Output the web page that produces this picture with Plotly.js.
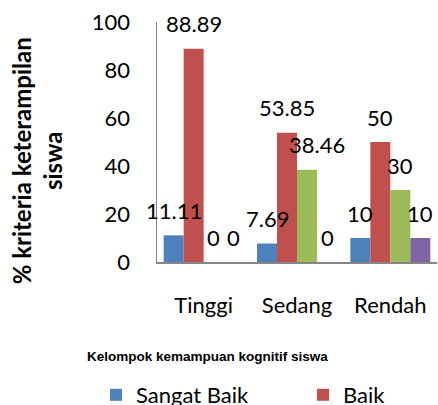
<!DOCTYPE html>
<html><head><meta charset="utf-8">
<script src="https://cdn.plot.ly/plotly-3.0.1.min.js"></script>
<style>html,body{margin:0;padding:0;background:#fff;}#chart{width:438px;height:405px;}</style>
</head><body><div id="chart"></div>
<script>
const categories = ['Tinggi', 'Sedang', 'Rendah'];
const seriesNames = ['Sangat Baik', 'Baik', 'Cukup', 'Kurang'];
const sangatBaik = [11.11, 7.69, 10];
const baik = [88.89, 53.85, 50];
const cukup = [0, 38.46, 30];
const kurang = [0, 0, 10];
const yTicks = [0, 20, 40, 60, 80, 100];
const colors = ['#4F81BD', '#C0504D', '#9BBB59', '#8064A2'];
const series = [sangatBaik, baik, cukup, kurang];

const font = 'Lato, "Open Sans", sans-serif';
const legendIds = ['legend', 'legend2', 'legend3', 'legend3'];
const traces = series.map((vals, i) => ({
  type: 'bar', name: seriesNames[i], x: categories, y: vals,
  marker: {color: colors[i]}, hoverinfo: 'none',
  legend: legendIds[i], showlegend: i < 2
}));

const barPx = 20;
const annotations = [];
series.forEach((vals, i) => {
  vals.forEach((v, j) => {
    let xs = (i - 1.5) * barPx;
    if (i === 2 && j === 1) xs += 10;
    annotations.push({x: categories[j], y: v, xref: 'x', yref: 'y', text: String(v),
      showarrow: false, xshift: xs, yshift: 25, xanchor: 'center', yanchor: 'middle',
      font: {family: font, size: 22, color: '#000'}});
  });
});
annotations.push({xref: 'paper', yref: 'paper', x: -0.428, y: 0.42, textangle: -90,
  xanchor: 'center', yanchor: 'middle',
  text: '% kriteria keterampilan<br>siswa', showarrow: false,
  font: {family: font, size: 24, color: '#000', weight: 'bold'}});
annotations.push({xref: 'paper', yref: 'paper', x: 0.182, y: -0.392,
  xanchor: 'center', yanchor: 'middle', text: 'Kelompok kemampuan kognitif siswa', showarrow: false,
  font: {family: '"Liberation Sans Narrow", "Liberation Sans", sans-serif', size: 13.5, color: '#000', weight: 'bold'}});

const legendBase = {orientation: 'h', xref: 'container', yref: 'container', y: 1 - 374/405,
  xanchor: 'left', yanchor: 'top', font: {family: font, size: 22, color: '#000'},
  bgcolor: 'rgba(0,0,0,0)'};

const layout = {
  width: 438, height: 405,
  margin: {l: 157, r: 1, t: 22, b: 143},
  paper_bgcolor: '#fff', plot_bgcolor: '#fff',
  barmode: 'group', bargap: 0.143, bargroupgap: 0,
  showlegend: true,
  legend: Object.assign({}, legendBase, {x: 96/438}),
  legend2: Object.assign({}, legendBase, {x: 303/438}),
  legend3: Object.assign({}, legendBase, {x: 0.99, visible: false}),
  xaxis: {type: 'category', range: [-0.5, 2.5], showline: true, linecolor: '#868686', linewidth: 1.5,
    ticks: '', tickangle: 0, ticklabelstandoff: 23, tickfont: {family: font, size: 22, color: '#000'},
    showgrid: false, zeroline: false, fixedrange: true},
  yaxis: {range: [0, 100], tickvals: yTicks, showline: true, linecolor: '#868686', linewidth: 1.5,
    ticks: '', ticklabelstandoff: 21, tickfont: {family: font, size: 22, color: '#000'},
    showgrid: false, zeroline: false, fixedrange: true},
  annotations: annotations
};
Plotly.newPlot('chart', traces, layout, {displayModeBar: false, staticPlot: true});
</script></body></html>
